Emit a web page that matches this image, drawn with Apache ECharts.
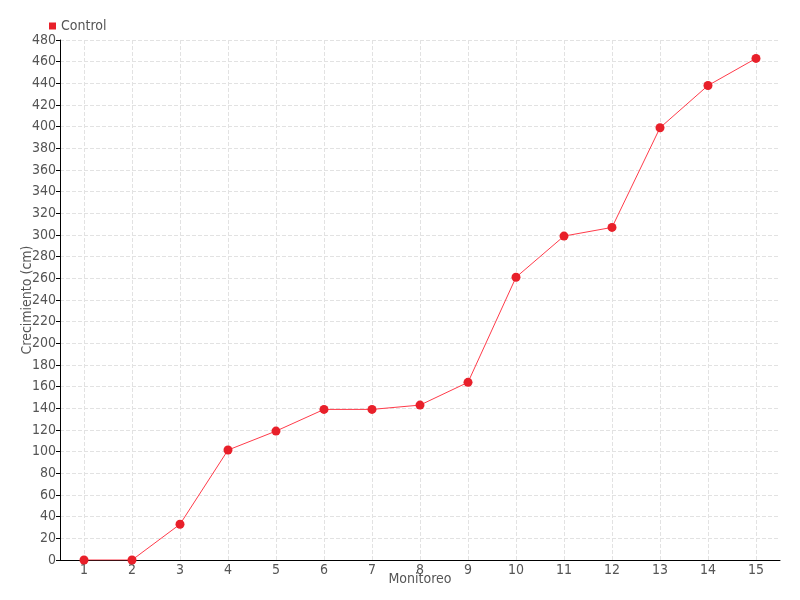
<!DOCTYPE html>
<html>
<head>
<meta charset="utf-8">
<script src="https://cdn.jsdelivr.net/npm/echarts@6/dist/echarts.min.js"></script>
<style>html,body{margin:0;padding:0;background:#fff}#c{width:800px;height:600px}</style>
</head>
<body>
<div id="c"></div>
<script>
const categories = ['1','2','3','4','5','6','7','8','9','10','11','12','13','14','15'];
const controlValues = [0, 0, 33, 101.5, 119, 139, 139, 143, 164, 261, 299, 307, 399, 438, 463];
const seriesName = 'Control';
const xName = 'Monitoreo';
const yName = 'Crecimiento (cm)';

const font = '"Liberation Sans Narrow", "DejaVu Sans Condensed", "Liberation Sans", sans-serif';
const chart = echarts.init(document.getElementById('c'));
chart.setOption({
  animation: false,
  textStyle: { fontFamily: font },
  legend: {
    data: [seriesName], left: 44, top: 14, icon: 'rect', itemWidth: 7, itemHeight: 7, itemGap: 3,
    textStyle: { color: '#555', fontSize: 14, fontFamily: font }
  },
  grid: { left: 60, right: 20, top: 40, bottom: 40 },
  xAxis: {
    type: 'category', data: categories, boundaryGap: true,
    name: xName, nameLocation: 'middle', nameGap: 12, nameMoveOverlap: false,
    nameTextStyle: { color: '#555', fontSize: 14, fontFamily: font },
    axisLine: { lineStyle: { color: '#000' } },
    axisTick: { alignWithLabel: true, length: 5, lineStyle: { color: '#000' } },
    axisLabel: { color: '#555', fontSize: 14, margin: 3, fontFamily: font },
    splitLine: { show: true, alignWithLabel: true, lineStyle: { type: 'dashed', color: '#e2e2e2' } }
  },
  yAxis: {
    type: 'value', min: 0, max: 480, interval: 20,
    name: yName, nameLocation: 'middle', nameGap: 26, nameMoveOverlap: false,
    nameTextStyle: { color: '#555', fontSize: 14, fontFamily: font },
    axisLine: { show: true, lineStyle: { color: '#000' } },
    axisTick: { show: true, length: 4, lineStyle: { color: '#000' } },
    axisLabel: { color: '#555', fontSize: 14, margin: 4, fontFamily: font },
    splitLine: { show: true, lineStyle: { type: 'dashed', color: '#e2e2e2' } }
  },
  series: [{
    name: seriesName, type: 'line', data: controlValues,
    symbol: 'circle', symbolSize: 9,
    itemStyle: { color: '#e8202a' },
    lineStyle: { color: '#ff3b4a', width: 1 }
  }]
});
</script>
</body>
</html>
